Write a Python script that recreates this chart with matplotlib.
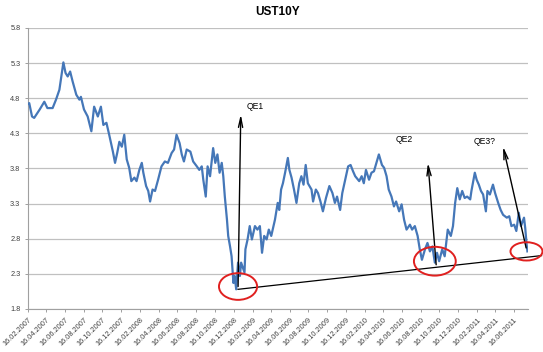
import matplotlib
matplotlib.use("Agg")
import matplotlib.pyplot as plt
import matplotlib.dates as mdates
from matplotlib.patches import Ellipse
import pandas as pd

plt.rcParams['font.family'] = ['Liberation Sans', 'DejaVu Sans']

# UST 10Y yield (roughly weekly)
dates = [
    "2007-02-16", "2007-02-20", "2007-03-01", "2007-03-08", "2007-03-26", "2007-04-10",
    "2007-04-20", "2007-05-07", "2007-05-18", "2007-05-29", "2007-06-11", "2007-06-18",
    "2007-06-25", "2007-07-03", "2007-07-11", "2007-07-23", "2007-08-02", "2007-08-07",
    "2007-08-17", "2007-08-29", "2007-09-10", "2007-09-19", "2007-10-01", "2007-10-11",
    "2007-10-19", "2007-10-29", "2007-11-07", "2007-11-19", "2007-11-26", "2007-12-03",
    "2007-12-10", "2007-12-18", "2007-12-26", "2008-01-03", "2008-01-11", "2008-01-18",
    "2008-01-28", "2008-02-04", "2008-02-13", "2008-02-21", "2008-02-26", "2008-03-06",
    "2008-03-13", "2008-03-19", "2008-03-27", "2008-04-04", "2008-04-14", "2008-04-25",
    "2008-05-06", "2008-05-16", "2008-05-28", "2008-06-05", "2008-06-13", "2008-06-23",
    "2008-06-30", "2008-07-07", "2008-07-16", "2008-07-28", "2008-08-06", "2008-08-18",
    "2008-08-26", "2008-09-03", "2008-09-08", "2008-09-16", "2008-09-22", "2008-09-30",
    "2008-10-10", "2008-10-17", "2008-10-24", "2008-10-31", "2008-11-07", "2008-11-12",
    "2008-11-17", "2008-11-24", "2008-11-28", "2008-12-04", "2008-12-09", "2008-12-15",
    "2008-12-19", "2008-12-24", "2008-12-30", "2009-01-05", "2009-01-09", "2009-01-20",
    "2009-01-23", "2009-01-30", "2009-02-06", "2009-02-13", "2009-02-23", "2009-03-03",
    "2009-03-11", "2009-03-18", "2009-03-25", "2009-04-02", "2009-04-09", "2009-04-17",
    "2009-04-29", "2009-05-08", "2009-05-13", "2009-05-19", "2009-05-25", "2009-06-01",
    "2009-06-10", "2009-06-15", "2009-06-22", "2009-06-30", "2009-07-08", "2009-07-17",
    "2009-07-24", "2009-07-31", "2009-08-07", "2009-08-14", "2009-08-26", "2009-08-31",
    "2009-09-09", "2009-09-16", "2009-09-24", "2009-10-02", "2009-10-12", "2009-10-23",
    "2009-11-02", "2009-11-10", "2009-11-17", "2009-11-27", "2009-12-04", "2009-12-11",
    "2009-12-23", "2009-12-31", "2010-01-08", "2010-01-15", "2010-01-28", "2010-02-05",
    "2010-02-12", "2010-02-19", "2010-03-01", "2010-03-09", "2010-03-17", "2010-03-25",
    "2010-04-02", "2010-04-12", "2010-04-19", "2010-04-27", "2010-05-04", "2010-05-13",
    "2010-05-21", "2010-05-28", "2010-06-07", "2010-06-15", "2010-06-23", "2010-07-01",
    "2010-07-12", "2010-07-19", "2010-07-28", "2010-08-06", "2010-08-13", "2010-08-20",
    "2010-08-30", "2010-09-07", "2010-09-15", "2010-09-23", "2010-10-01", "2010-10-08",
    "2010-10-15", "2010-10-25", "2010-11-02", "2010-11-12", "2010-11-22", "2010-11-29",
    "2010-12-06", "2010-12-13", "2010-12-21", "2010-12-29", "2011-01-06", "2011-01-14",
    "2011-01-24", "2011-01-28", "2011-02-08", "2011-02-14", "2011-02-21", "2011-02-28",
    "2011-03-07", "2011-03-16", "2011-03-21", "2011-03-29", "2011-04-08", "2011-04-15",
    "2011-04-25", "2011-05-03", "2011-05-11", "2011-05-23", "2011-05-31", "2011-06-07",
    "2011-06-16", "2011-06-23", "2011-07-01", "2011-07-08", "2011-07-18", "2011-07-22",
    "2011-07-26", "2011-07-29",
]
yields = [
    4.72, 4.73, 4.54, 4.52, 4.64, 4.75,
    4.66, 4.66, 4.78, 4.92, 5.31, 5.16,
    5.11, 5.18, 5.04, 4.85, 4.78, 4.82,
    4.64, 4.54, 4.33, 4.68, 4.54, 4.68,
    4.42, 4.45, 4.28, 4.04, 3.88, 4.02,
    4.18, 4.11, 4.28, 3.93, 3.81, 3.62,
    3.67, 3.62, 3.78, 3.88, 3.74, 3.55,
    3.48, 3.33, 3.50, 3.48, 3.64, 3.83,
    3.90, 3.88, 4.02, 4.07, 4.28, 4.16,
    4.00, 3.90, 4.07, 4.04, 3.90, 3.83,
    3.78, 3.83, 3.64, 3.40, 3.83, 3.69,
    4.09, 3.88, 4.00, 3.74, 3.88, 3.69,
    3.40, 3.07, 2.84, 2.69, 2.55, 2.17,
    2.27, 2.08, 2.46, 2.27, 2.46, 2.32,
    2.65, 2.79, 2.98, 2.79, 2.98, 2.93,
    2.98, 2.60, 2.84, 2.79, 2.93, 2.84,
    3.07, 3.31, 3.21, 3.50, 3.59, 3.74,
    3.95, 3.78, 3.67, 3.50, 3.31, 3.59,
    3.69, 3.57, 3.85, 3.59, 3.50, 3.33,
    3.50, 3.45, 3.33, 3.19, 3.38, 3.55,
    3.45, 3.31, 3.40, 3.21, 3.45, 3.59,
    3.83, 3.85, 3.76, 3.69, 3.62, 3.69,
    3.59, 3.78, 3.64, 3.74, 3.76, 3.88,
    4.00, 3.85, 3.81, 3.69, 3.50, 3.40,
    3.26, 3.33, 3.19, 3.29, 3.07, 2.93,
    3.00, 2.93, 2.98, 2.84, 2.65, 2.50,
    2.65, 2.74, 2.62, 2.69, 2.46, 2.60,
    2.48, 2.65, 2.55, 2.93, 2.84, 2.98,
    3.31, 3.52, 3.36, 3.48, 3.38, 3.40,
    3.36, 3.48, 3.74, 3.64, 3.57, 3.48,
    3.43, 3.19, 3.48, 3.43, 3.57, 3.45,
    3.31, 3.21, 3.14, 3.10, 3.12, 2.98,
    3.00, 2.91, 3.17, 2.98, 3.10, 2.95,
    2.74, 2.62,
]

# hand-drawn annotations
qe_labels = ["QE1", "QE2", "QE3?"]
arrow_tail = [("2008-12-30", 2.08), ("2010-10-06", 2.39), ("2011-07-27", 2.63)]
arrow_head = [("2009-01-08", 4.61), ("2010-09-08", 3.92), ("2011-05-09", 4.15)]
label_pos = [("2009-01-28", 4.68), ("2010-06-25", 4.21), ("2011-03-11", 4.18)]
trend_start = ("2008-12-30", 2.08)
trend_end = ("2011-09-13", 2.56)
# circles: center date, center value, width (days), height (yield)
circles = [("2008-12-30", 2.12, 124, 0.38), ("2010-10-01", 2.48, 136, 0.41),
           ("2011-07-26", 2.62, 104, 0.26)]

dt = pd.to_datetime(dates)

fig = plt.figure(figsize=(5.43, 3.52), dpi=100)
ax = fig.add_axes([0.0516, 0.1222, 0.9208, 0.7983])

ax.plot(dt, yields, color='#4577b8', lw=1.6, zorder=3)

ax.set_xlim(pd.Timestamp("2007-02-16"), pd.Timestamp("2011-07-31"))
ax.set_ylim(1.8, 5.8)
ax.set_yticks([1.8, 2.3, 2.8, 3.3, 3.8, 4.3, 4.8, 5.3, 5.8])
ax.yaxis.set_major_formatter(plt.FormatStrFormatter('%.1f'))
ax.xaxis.set_major_locator(mdates.MonthLocator(bymonth=[2, 4, 6, 8, 10, 12], bymonthday=16))
ax.xaxis.set_major_formatter(mdates.DateFormatter('%d.%m.%Y'))
for lab in ax.get_xticklabels():
    lab.set_rotation(45)
    lab.set_ha('right')
    lab.set_rotation_mode('anchor')

ax.grid(axis='y', color='#c0c0c0', lw=0.9)
ax.set_axisbelow(True)
for s in ['top', 'right']:
    ax.spines[s].set_visible(False)
for s in ['left', 'bottom']:
    ax.spines[s].set_color('#a0a0a0')
    ax.spines[s].set_linewidth(0.8)
ax.tick_params(axis='both', colors='#a0a0a0', labelcolor='#404040', labelsize=5.3,
               length=2.5, width=0.7)
ax.tick_params(axis='y', pad=3)
ax.tick_params(axis='x', pad=3)

ax.set_title('UST10Y', fontsize=8.5, fontweight='bold', pad=9)

# trend line under the lows
ax.plot(pd.to_datetime([trend_start[0], trend_end[0]]), [trend_start[1], trend_end[1]],
        color='black', lw=0.9, clip_on=False, zorder=4)

for lab, tail, head, tpos in zip(qe_labels, arrow_tail, arrow_head, label_pos):
    ax.annotate('', xy=(pd.Timestamp(head[0]), head[1]),
                xytext=(pd.Timestamp(tail[0]), tail[1]),
                arrowprops=dict(arrowstyle='->,head_length=0.7,head_width=0.15',
                                color='black', lw=1.0),
                annotation_clip=False, zorder=5)
    ha = 'left' if lab == 'QE1' else 'center'
    ax.text(pd.Timestamp(tpos[0]), tpos[1], lab, fontsize=6.2, ha=ha, va='center', zorder=5)

for c in circles:
    ax.add_patch(Ellipse((mdates.date2num(pd.Timestamp(c[0])), c[1]), c[2], c[3],
                         fill=False, edgecolor='#e0201f', lw=1.4, clip_on=False, zorder=6))

fig.savefig('out.png', dpi=100)
